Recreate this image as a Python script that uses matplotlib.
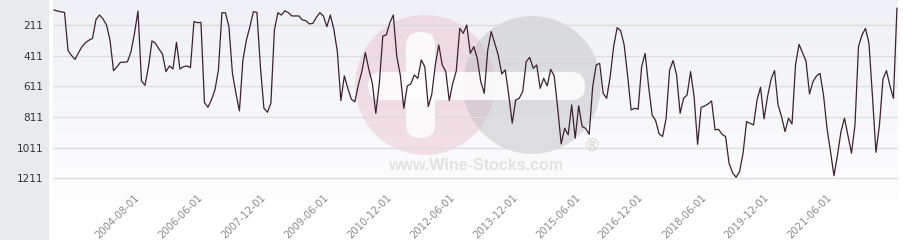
import numpy as np
import matplotlib
matplotlib.use("Agg")
import matplotlib.pyplot as plt
from matplotlib.patches import Circle, FancyBboxPatch, Rectangle
from matplotlib.transforms import IdentityTransform

# rang du vin (axe inversé), un point par relevé
ranks = [
    113, 120, 125, 129, 378, 410, 435, 391, 352, 326,
    310, 298, 174, 146, 172, 211, 309, 509, 483, 454,
    454, 450, 385, 265, 120, 576, 604, 483, 315, 330,
    368, 400, 515, 478, 498, 324, 498, 483, 478, 489,
    189, 196, 194, 717, 747, 699, 634, 504, 131, 131,
    222, 526, 656, 771, 439, 309, 222, 124, 129, 483,
    754, 780, 721, 244, 131, 146, 118, 131, 152, 152,
    152, 178, 183, 204, 200, 161, 131, 152, 222, 146,
    239, 385, 704, 543, 624, 695, 712, 602, 515, 391,
    500, 591, 787, 591, 283, 276, 196, 146, 417, 537,
    754, 608, 595, 537, 559, 439, 483, 743, 663, 472,
    341, 472, 515, 704, 591, 511, 233, 265, 211, 396,
    352, 428, 580, 656, 374, 254, 330, 407, 530, 504,
    667, 851, 700, 689, 645, 450, 422, 493, 472, 624,
    559, 608, 500, 543, 754, 986, 884, 927, 732, 949,
    738, 874, 885, 924, 613, 472, 461, 656, 689, 548,
    352, 228, 248, 341, 543, 765, 754, 760, 483, 396,
    613, 798, 834, 921, 938, 819, 504, 443, 537, 787,
    689, 667, 515, 678, 989, 748, 739, 726, 706, 895,
    891, 924, 938, 1113, 1174, 1204, 1167, 1047, 841, 852,
    863, 700, 617, 823, 678, 565, 508, 732, 808, 906,
    819, 856, 472, 337, 391, 446, 661, 580, 543, 526,
    667, 884, 1036, 1194, 1058, 906, 819, 934, 1047, 863,
    352, 276, 233, 330, 678, 1041, 863, 563, 508, 608,
    689, 102,
]

date_labels = [
    "2004-08-01", "2006-06-01", "2007-12-01", "2009-06-01",
    "2010-12-01", "2012-06-01", "2013-12-01", "2015-06-01",
    "2016-12-01", "2018-06-01", "2019-12-01", "2021-06-01",
]
rank_ticks = [211, 411, 611, 811, 1011, 1211]

W, H = 904, 240
fig = plt.figure(figsize=(W / 100, H / 100), dpi=100)
fig.patch.set_facecolor("white")

# panneau gris à gauche
fig.patches.append(Rectangle((0, 0), 49 / W, 1, transform=fig.transFigure,
                             facecolor="#e8ebee", edgecolor="none", zorder=-5))

ax = fig.add_axes([53 / W, 40 / H, 845 / W, 200 / H])
ax.set_facecolor("none")

x = np.arange(len(ranks))
ax.set_xlim(-0.3, len(ranks) - 0.7)
ax.set_ylim(1352, 48)

# dégradé de fond
grad = np.linspace(0, 1, 100).reshape(-1, 1)
top = np.array([240, 241, 246]) / 255
bot = np.array([253, 253, 254]) / 255
img = top + (bot - top) * grad[..., None]
ax.imshow(img, extent=[-0.3, len(ranks) - 0.7, 1352, 48], aspect="auto",
          zorder=0, interpolation="bilinear")

# filigrane
tr = IdentityTransform()
ax.add_artist(Circle((425, H - 85), 70, transform=tr, facecolor="#e8b4c2",
                     alpha=0.38, edgecolor="none", zorder=0.5))
ax.add_artist(Circle((532, H - 85), 69, transform=tr, facecolor="#b8b8bc",
                     alpha=0.42, edgecolor="none", zorder=0.5))
ax.add_artist(FancyBboxPatch((368, H - 100), 217, 28, transform=tr,
                             boxstyle="round,pad=0,rounding_size=14",
                             facecolor="white", alpha=0.85, edgecolor="none", zorder=0.6))
ax.add_artist(FancyBboxPatch((406, H - 138), 29, 106, transform=tr,
                             boxstyle="round,pad=0,rounding_size=14",
                             facecolor="white", alpha=0.85, edgecolor="none", zorder=0.6))
fig.text(476 / W, 1 - 166 / H, "www.Wine-Stocks.com", ha="center", va="center",
         fontsize=11.5, fontweight="bold", family="Liberation Sans",
         color="#e2e2e4", zorder=0.7)
fig.text(592 / W, 1 - 146 / H, "®", ha="center", va="center",
         fontsize=12, color="#d8d8da", zorder=0.7)

ax.grid(axis="y", color="#dddddd", linewidth=1, zorder=1)
ax.set_axisbelow(True)
ax.plot(x, ranks, color="#3b2230", linewidth=0.9, zorder=3)

ax.set_yticks(rank_ticks)
ax.set_yticklabels([str(v) for v in rank_ticks])
ax.set_xticks(range(24, 24 + 18 * len(date_labels), 18))
ax.set_xticklabels(date_labels, rotation=45, ha="right", va="center",
                   rotation_mode="anchor")
ax.tick_params(axis="y", length=0, pad=7, labelsize=7.6, labelcolor="#333333")
ax.tick_params(axis="x", length=0, pad=-3, labelsize=7.2, labelcolor="#8a8a8a")
for s in ax.spines.values():
    s.set_visible(False)

fig.savefig("out.png", dpi=100)
